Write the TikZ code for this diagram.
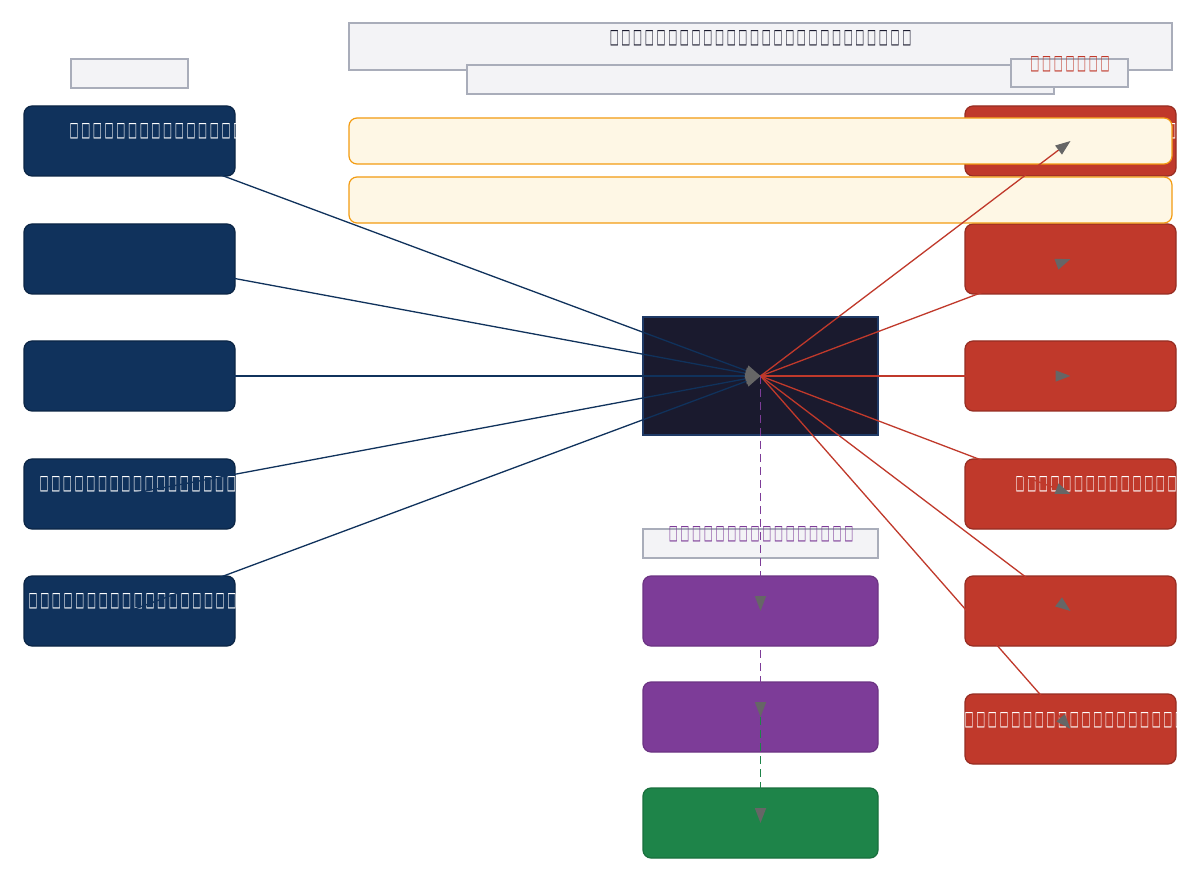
\documentclass[tikz,border=0pt]{standalone}
\usepackage{fontspec}
\usepackage{graphicx}
\newfontfamily\dv{DejaVu Sans}
\usetikzlibrary{arrows.meta}
\definecolor{navy}{HTML}{10325C}
\definecolor{navyb}{HTML}{0B2545}
\definecolor{coreb}{HTML}{1F3A66}
\definecolor{corefill}{HTML}{1A1A2E}
\definecolor{redf}{HTML}{C0392B}
\definecolor{redb}{HTML}{962D22}
\definecolor{yelf}{HTML}{FEF7E5}
\definecolor{yelb}{HTML}{F39C12}
\definecolor{lblf}{HTML}{F3F3F6}
\definecolor{lblb}{HTML}{A9ADBA}
\definecolor{purf}{HTML}{7D3C98}
\definecolor{purb}{HTML}{6C3483}
\definecolor{grnf}{HTML}{1E8449}
\definecolor{grnb}{HTML}{196F3D}
\definecolor{tipgray}{HTML}{666666}
\definecolor{titletext}{HTML}{1A1A2E}
\newcount\tfc
\newcommand\tofus[1]{\tfc=0\relax\loop\ifnum\tfc<#1\relax\makebox[11.7pt][c]{\resizebox{9pt}{13pt}{□}}\advance\tfc by 1\relax\repeat}
\tikzset{
  lbl/.style={draw=lblb, fill=lblf, line width=1.2pt, inner sep=0pt, rectangle},
  bbox/.style={rectangle, rounded corners=8pt, minimum width=211pt, minimum height=70pt, inner sep=0pt, line width=1.2pt},
  bluebox/.style={bbox, draw=navyb, fill=navy},
  redbox/.style={bbox, draw=redb, fill=redf},
  colbox/.style={rectangle, rounded corners=8pt, minimum width=235pt, minimum height=70pt, inner sep=0pt, line width=1.2pt},
  yelbox/.style={rectangle, rounded corners=8pt, minimum width=823pt, minimum height=46pt, inner sep=0pt, line width=1.2pt, draw=yelb, fill=yelf},
  tofu/.style={inner sep=0pt, font=\dv\bfseries\fontsize{15}{15}\selectfont},
  tiptri/.tip={Triangle[length=15pt,width=11pt,color=tipgray]},
  navyedge/.style={draw=navy, line width=1.3pt, -tiptri},
  rededge/.style={draw=redf, line width=1.3pt, -tiptri},
  puredge/.style={draw=purf, line width=1.8pt, dash pattern=on 8pt off 5pt, -tiptri},
  grnedge/.style={draw=grnf, line width=1.8pt, dash pattern=on 8pt off 5pt, -tiptri}
}
\begin{document}
\begin{tikzpicture}[x=1pt,y=-1pt]
\useasboundingbox[fill=white] (0,0) rectangle (1200,882);
% header labels
\node[lbl, minimum width=823pt, minimum height=47pt] (title) at (760.5,46.5) {};
\node[tofu, text=titletext] (titletxt) at (760.5,38) {\tofus{26}};
\node[lbl, minimum width=587pt, minimum height=29pt] (sub) at (760.5,79.5) {};
\node[lbl, minimum width=117pt, minimum height=28pt] (rlab) at (1069.5,73) {};
\node[tofu, text=redf] (rlabtxt) at (1070,64) {\tofus{7}};
\node[lbl, minimum width=117pt, minimum height=29pt] (llab) at (129.5,73.5) {};
% left boxes
\node[bluebox] (l1) at (129.5,141) {};
\node[bluebox] (l2) at (129.5,259) {};
\node[bluebox] (l3) at (129.5,376) {};
\node[bluebox] (l4) at (129.5,494) {};
\node[bluebox] (l5) at (129.5,611) {};
\begin{scope}
  \clip[rounded corners=8pt] (l1.south west) rectangle (l1.north east);
  \node[tofu, text=white, anchor=west] (l1t) at (68,131) {\tofus{15}};
\end{scope}
\begin{scope}
  \clip[rounded corners=8pt] (l4.south west) rectangle (l4.north east);
  \node[tofu, text=white, anchor=west] (l4t) at (38,484) {\tofus{18}};
\end{scope}
\begin{scope}
  \clip[rounded corners=8pt] (l5.south west) rectangle (l5.north east);
  \node[tofu, text=white, anchor=west] (l5t) at (27,601) {\tofus{19}};
\end{scope}
% right boxes
\node[redbox] (r1) at (1070.5,141) {};
\node[redbox] (r2) at (1070.5,259) {};
\node[redbox] (r3) at (1070.5,376) {};
\node[redbox] (r4) at (1070.5,494) {};
\node[redbox] (r5) at (1070.5,611) {};
\node[redbox] (r6) at (1070.5,729) {};
\begin{scope}
  \clip[rounded corners=8pt] (r1.south west) rectangle (r1.north east);
  \node[tofu, text=white, anchor=west] (r1t) at (990,131) {\tofus{17}};
\end{scope}
\begin{scope}
  \clip[rounded corners=8pt] (r4.south west) rectangle (r4.north east);
  \node[tofu, text=white, anchor=west] (r4t) at (1014,484) {\tofus{15}};
\end{scope}
\begin{scope}
  \clip[rounded corners=8pt] (r6.south west) rectangle (r6.north east);
  \node[tofu, text=white, anchor=west] (r6t) at (963,720) {\tofus{19}};
\end{scope}
% centre
\node[rectangle, draw=coreb, fill=corefill, line width=1.2pt, minimum width=235pt, minimum height=118pt, inner sep=0pt] (c) at (760.5,376) {};
\node[lbl, minimum width=235pt, minimum height=29pt] (plab) at (760.5,543.5) {};
\node[tofu, text=purf] (plabtxt) at (761,534) {\tofus{16}};
\node[colbox, draw=purb, fill=purf] (p1) at (760.5,611) {};
\node[colbox, draw=purb, fill=purf] (p2) at (760.5,717) {};
\node[colbox, draw=grnb, fill=grnf] (g) at (760.5,823) {};
% yellow bands
\node[yelbox] (y1) at (760.5,141) {};
\node[yelbox] (y2) at (760.5,200) {};
% edges
\foreach \n in {l1,l2,l3,l4,l5} \draw[navyedge] (\n.center) -- (c.center);
\foreach \n in {r1,r2,r3,r4,r5,r6} \draw[rededge] (c.center) -- (\n.center);
\draw[puredge] (c.center) -- (p1.center);
\draw[puredge] (p1.center) -- (p2.center);
\draw[grnedge] (p2.center) -- (g.center);
\end{tikzpicture}
\end{document}
